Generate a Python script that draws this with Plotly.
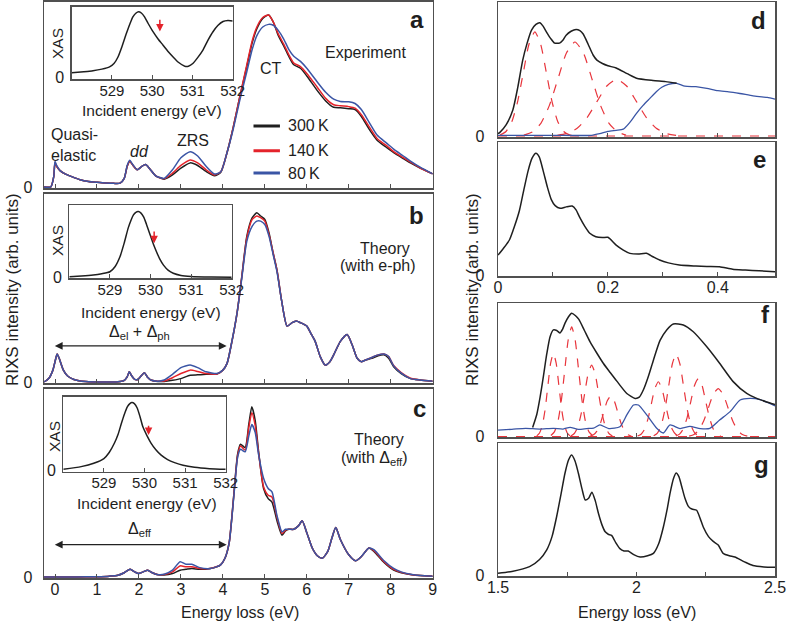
import plotly.graph_objects as go

# ---------------- DATA ----------------
# Panel a (experiment)
xa = [-0.26, -0.1, -0.03, 0.0, 0.04, 0.12, 0.25, 0.4, 0.6, 0.8, 1.0, 1.2, 1.4, 1.55, 1.65, 1.72, 1.78, 1.86, 1.96, 2.07,
      2.16, 2.26, 2.4, 2.6, 2.8, 3.0, 3.22, 3.4, 3.6, 3.8, 3.95, 4.1, 4.25, 4.4, 4.57, 4.7, 4.81, 4.95, 5.09, 5.2,
      5.32, 5.45, 5.57, 5.69, 5.85, 6.0, 6.25, 6.45, 6.64, 6.8, 7.0, 7.15, 7.3, 7.5, 7.68, 7.9, 8.07, 8.3, 8.47, 8.7, 9.0]
a_300K = [0.0, 0.0, 0.06, 0.14, 0.12, 0.095, 0.075, 0.06, 0.042, 0.032, 0.027, 0.023, 0.021, 0.022, 0.05, 0.12, 0.15, 0.125, 0.10, 0.12,
          0.13, 0.105, 0.065, 0.045, 0.07, 0.11, 0.14, 0.125, 0.09, 0.065, 0.085, 0.20, 0.35, 0.52, 0.70, 0.84, 0.92, 0.98, 1.0, 0.96,
          0.88, 0.82, 0.76, 0.71, 0.69, 0.645, 0.56, 0.50, 0.463, 0.46, 0.455, 0.45, 0.41, 0.33, 0.27, 0.23, 0.20, 0.165, 0.14, 0.11, 0.076]
a_140K = [0.0, 0.0, 0.06, 0.14, 0.12, 0.095, 0.075, 0.06, 0.042, 0.032, 0.027, 0.023, 0.021, 0.022, 0.05, 0.12, 0.15, 0.125, 0.10, 0.12,
          0.13, 0.105, 0.065, 0.048, 0.08, 0.125, 0.157, 0.14, 0.10, 0.07, 0.088, 0.20, 0.35, 0.52, 0.71, 0.85, 0.93, 0.985, 1.0, 0.96,
          0.89, 0.83, 0.77, 0.72, 0.70, 0.66, 0.58, 0.515, 0.478, 0.472, 0.467, 0.458, 0.42, 0.345, 0.28, 0.24, 0.205, 0.17, 0.145, 0.11, 0.076]
a_80K = [0.0, 0.0, 0.06, 0.15, 0.125, 0.095, 0.075, 0.06, 0.042, 0.032, 0.027, 0.023, 0.021, 0.022, 0.05, 0.125, 0.155, 0.128, 0.10, 0.12,
         0.13, 0.105, 0.065, 0.05, 0.10, 0.17, 0.205, 0.18, 0.12, 0.075, 0.088, 0.20, 0.34, 0.50, 0.67, 0.80, 0.88, 0.93, 0.945, 0.94,
         0.91, 0.86, 0.80, 0.76, 0.73, 0.69, 0.61, 0.55, 0.51, 0.497, 0.495, 0.485, 0.45, 0.37, 0.30, 0.255, 0.22, 0.18, 0.15, 0.115, 0.076]

# Panel b (theory with e-ph)
xb = [-0.26, -0.15, -0.05, 0.02, 0.05, 0.1, 0.2, 0.3, 0.45, 0.6, 0.8, 1.2, 1.5, 1.65, 1.72, 1.77, 1.83, 1.9, 1.97, 2.05,
      2.13, 2.2, 2.3, 2.45, 2.6, 2.8, 3.0, 3.22, 3.4, 3.6, 3.86, 4.0, 4.1, 4.2, 4.34, 4.45, 4.57, 4.7, 4.81, 4.9,
      5.0, 5.1, 5.2, 5.29, 5.4, 5.53, 5.65, 5.75, 5.85, 6.0, 6.09, 6.2, 6.32, 6.44, 6.55, 6.64, 6.8, 6.96, 7.08, 7.2,
      7.3, 7.4, 7.55, 7.7, 7.84, 7.95, 8.07, 8.25, 8.47, 8.7, 9.0]
b_300K = [0.0, 0.02, 0.07, 0.14, 0.165, 0.14, 0.07, 0.035, 0.015, 0.006, 0.002, 0.0, 0.002, 0.01, 0.03, 0.06, 0.035, 0.015, 0.015, 0.035,
          0.055, 0.03, 0.01, 0.003, 0.003, 0.01, 0.02, 0.04, 0.042, 0.045, 0.047, 0.07, 0.11, 0.22, 0.41, 0.62, 0.86, 0.97, 1.0, 0.98,
          0.96, 0.88, 0.76, 0.66, 0.48, 0.33, 0.35, 0.36, 0.35, 0.33, 0.29, 0.24, 0.15, 0.10, 0.12, 0.16, 0.24, 0.28, 0.22, 0.14,
          0.12, 0.13, 0.14, 0.155, 0.16, 0.14, 0.09, 0.05, 0.02, 0.012, 0.005]
b_140K = [0.0, 0.02, 0.07, 0.14, 0.165, 0.14, 0.07, 0.035, 0.015, 0.006, 0.002, 0.0, 0.002, 0.01, 0.03, 0.06, 0.035, 0.015, 0.015, 0.035,
          0.055, 0.03, 0.01, 0.004, 0.006, 0.025, 0.05, 0.07, 0.062, 0.05, 0.047, 0.07, 0.11, 0.22, 0.41, 0.62, 0.85, 0.96, 0.98, 0.97,
          0.95, 0.87, 0.76, 0.66, 0.48, 0.33, 0.35, 0.36, 0.35, 0.33, 0.29, 0.24, 0.15, 0.10, 0.12, 0.16, 0.24, 0.28, 0.22, 0.14,
          0.12, 0.13, 0.145, 0.16, 0.165, 0.15, 0.097, 0.055, 0.022, 0.012, 0.005]
b_80K = [0.0, 0.02, 0.07, 0.14, 0.165, 0.14, 0.07, 0.035, 0.015, 0.006, 0.002, 0.0, 0.002, 0.01, 0.03, 0.06, 0.035, 0.015, 0.015, 0.035,
         0.055, 0.03, 0.01, 0.005, 0.012, 0.045, 0.085, 0.10, 0.085, 0.06, 0.05, 0.07, 0.11, 0.22, 0.41, 0.61, 0.83, 0.92, 0.95, 0.95,
         0.93, 0.86, 0.75, 0.65, 0.48, 0.33, 0.35, 0.36, 0.35, 0.33, 0.29, 0.24, 0.15, 0.10, 0.12, 0.16, 0.24, 0.28, 0.22, 0.14,
         0.12, 0.13, 0.145, 0.16, 0.165, 0.15, 0.095, 0.052, 0.02, 0.012, 0.005]

# Panel c (theory with Delta_eff)
xc = [-0.26, 0.5, 1.0, 1.3, 1.5, 1.65, 1.79, 1.9, 1.99, 2.1, 2.21, 2.32, 2.43, 2.6, 2.8, 2.98, 3.12, 3.26, 3.45, 3.7,
      3.94, 4.05, 4.15, 4.26, 4.35, 4.42, 4.53, 4.62, 4.69, 4.77, 4.85, 4.97, 5.08, 5.17, 5.29, 5.41, 5.49, 5.57, 5.69, 5.8,
      5.89, 6.0, 6.13, 6.25, 6.37, 6.5, 6.6, 6.69, 6.8, 7.0, 7.16, 7.3, 7.48, 7.6, 7.84, 8.07, 8.25, 8.47, 8.7, 9.0]
c_300K = [0.0, 0.0, 0.002, 0.005, 0.01, 0.025, 0.045, 0.03, 0.02, 0.03, 0.04, 0.025, 0.015, 0.012, 0.02, 0.04, 0.045, 0.05, 0.045, 0.05,
          0.07, 0.11, 0.20, 0.48, 0.72, 0.78, 0.76, 0.90, 1.0, 0.92, 0.74, 0.52, 0.46, 0.44, 0.33, 0.245, 0.27, 0.28, 0.28, 0.30,
          0.33, 0.26, 0.17, 0.125, 0.11, 0.15, 0.23, 0.29, 0.22, 0.13, 0.095, 0.12, 0.17, 0.15, 0.085, 0.04, 0.025, 0.015, 0.008, 0.005]
c_140K = [0.0, 0.0, 0.002, 0.005, 0.01, 0.025, 0.045, 0.03, 0.02, 0.03, 0.04, 0.025, 0.015, 0.014, 0.03, 0.065, 0.06, 0.06, 0.05, 0.05,
          0.07, 0.11, 0.20, 0.48, 0.71, 0.77, 0.745, 0.88, 0.965, 0.89, 0.73, 0.53, 0.48, 0.47, 0.35, 0.255, 0.275, 0.28, 0.28, 0.30,
          0.33, 0.26, 0.17, 0.125, 0.11, 0.15, 0.23, 0.29, 0.22, 0.13, 0.095, 0.12, 0.17, 0.155, 0.09, 0.045, 0.027, 0.015, 0.008, 0.005]
c_80K = [0.0, 0.0, 0.002, 0.005, 0.01, 0.025, 0.045, 0.03, 0.02, 0.03, 0.04, 0.025, 0.015, 0.016, 0.04, 0.09, 0.075, 0.075, 0.055, 0.05,
         0.07, 0.11, 0.20, 0.47, 0.70, 0.75, 0.735, 0.83, 0.895, 0.85, 0.72, 0.58, 0.52, 0.50, 0.36, 0.265, 0.28, 0.28, 0.28, 0.30,
         0.33, 0.26, 0.17, 0.125, 0.11, 0.15, 0.23, 0.29, 0.22, 0.13, 0.095, 0.12, 0.17, 0.16, 0.095, 0.05, 0.03, 0.016, 0.008, 0.005]

# Insets: XAS vs incident energy
xas_a_x = [528.0, 528.3, 528.53, 528.75, 528.94, 529.05, 529.15, 529.25, 529.36, 529.45, 529.52, 529.6, 529.66, 529.73, 529.81,
           529.9, 530.02, 530.15, 530.27, 530.4, 530.52, 530.65, 530.81, 530.9, 531.01, 531.13, 531.26, 531.38, 531.51, 531.63,
           531.76, 531.88, 532.0]
xas_a_y = [0.07, 0.085, 0.10, 0.125, 0.16, 0.21, 0.31, 0.47, 0.67, 0.82, 0.92, 0.98, 1.0, 0.98, 0.92,
           0.82, 0.695, 0.58, 0.49, 0.39, 0.31, 0.23, 0.17, 0.17, 0.21, 0.30, 0.415, 0.56, 0.695, 0.79,
           0.85, 0.865, 0.86]
xas_b_x = [528.0, 528.3, 528.59, 528.8, 529.0, 529.13, 529.25, 529.35, 529.45, 529.52, 529.58, 529.64, 529.7, 529.76, 529.83,
           529.9, 529.99, 530.07, 530.15, 530.23, 530.32, 530.44, 530.56, 530.75, 531.0, 531.5, 532.0]
xas_b_y = [0.015, 0.025, 0.04, 0.06, 0.09, 0.17, 0.32, 0.52, 0.75, 0.87, 0.95, 0.99, 1.0, 0.98, 0.92,
           0.81, 0.65, 0.51, 0.39, 0.28, 0.19, 0.11, 0.067, 0.035, 0.02, 0.01, 0.005]
xas_c_x = [528.0, 528.44, 528.75, 529.0, 529.13, 529.26, 529.35, 529.43, 529.5, 529.58, 529.64, 529.69, 529.75, 529.82, 529.89,
           529.96, 530.06, 530.16, 530.28, 530.41, 530.57, 530.74, 530.95, 531.23, 531.6, 532.0]
xas_c_y = [0.01, 0.05, 0.1, 0.17, 0.26, 0.40, 0.53, 0.69, 0.82, 0.94, 0.985, 1.0, 0.985, 0.92, 0.79,
           0.64, 0.51, 0.40, 0.30, 0.22, 0.155, 0.11, 0.07, 0.04, 0.02, 0.01]
arrow_energy = {"a": 530.19, "b": 530.09, "c": 530.1}

# Panel d
xd_total = [0.0, 0.003, 0.015, 0.027, 0.036, 0.045, 0.053, 0.061, 0.069, 0.076, 0.082, 0.088, 0.096, 0.103, 0.112, 0.118,
            0.124, 0.133, 0.142, 0.149, 0.155, 0.164, 0.173, 0.18, 0.19, 0.2, 0.215, 0.235, 0.252, 0.282, 0.305, 0.325]
yd_total = [0.02, 0.03, 0.1, 0.23, 0.43, 0.67, 0.82, 0.935, 0.985, 1.0, 0.97, 0.92, 0.86, 0.82, 0.82, 0.845,
            0.89, 0.925, 0.94, 0.93, 0.90, 0.81, 0.715, 0.67, 0.64, 0.62, 0.6, 0.55, 0.51, 0.49, 0.48, 0.465]
xd_bg = [0.0, 0.1, 0.17, 0.185, 0.2, 0.215, 0.228, 0.24, 0.252, 0.264, 0.276, 0.288, 0.298, 0.31, 0.325, 0.34, 0.36,
         0.38, 0.4, 0.42, 0.44, 0.464, 0.48, 0.49, 0.504]
yd_bg = [0.005, 0.005, 0.006, 0.02, 0.04, 0.05, 0.06, 0.12, 0.2, 0.27, 0.33, 0.39, 0.43, 0.455, 0.465, 0.44, 0.435,
         0.42, 0.40, 0.39, 0.375, 0.355, 0.345, 0.34, 0.325]
xd_fit1 = [0.004, 0.0145, 0.025, 0.0355, 0.046, 0.0565, 0.067, 0.0775, 0.088, 0.0985, 0.109, 0.1195, 0.13, 0.1405]
yd_fit1 = [0.010, 0.040, 0.124, 0.299, 0.558, 0.812, 0.92, 0.812, 0.558, 0.299, 0.124, 0.040, 0.010, 0.002]
xd_fit2 = [0.047, 0.0625, 0.078, 0.0935, 0.109, 0.1245, 0.14, 0.1555, 0.171, 0.1865, 0.202, 0.2175, 0.233]
yd_fit2 = [0.009, 0.036, 0.112, 0.270, 0.503, 0.732, 0.83, 0.732, 0.503, 0.270, 0.112, 0.036, 0.009]
xd_fit3 = [0.108, 0.126, 0.144, 0.162, 0.18, 0.198, 0.216, 0.234, 0.252, 0.27, 0.288, 0.306, 0.324]
yd_fit3 = [0.006, 0.022, 0.068, 0.162, 0.303, 0.441, 0.50, 0.441, 0.303, 0.162, 0.068, 0.022, 0.006]

# Panel e
xe = [0.0, 0.01, 0.021, 0.03, 0.039, 0.047, 0.055, 0.062, 0.069, 0.075, 0.082, 0.09, 0.097, 0.104, 0.113, 0.124, 0.135,
      0.142, 0.148, 0.158, 0.167, 0.178, 0.19, 0.2, 0.215, 0.228, 0.24, 0.255, 0.27, 0.282, 0.294, 0.31, 0.33, 0.36, 0.38,
      0.403, 0.427, 0.45, 0.475, 0.504]
ye = [0.164, 0.22, 0.29, 0.40, 0.53, 0.70, 0.86, 0.96, 1.0, 0.97, 0.86, 0.72, 0.62, 0.57, 0.548, 0.56, 0.567,
      0.535, 0.48, 0.40, 0.343, 0.315, 0.308, 0.31, 0.246, 0.205, 0.178, 0.172, 0.178, 0.15, 0.123, 0.10, 0.082, 0.074, 0.07,
      0.068, 0.047, 0.041, 0.035, 0.027]

# Panel f
xf_total = [1.625, 1.64, 1.652, 1.664, 1.676, 1.688, 1.70, 1.712, 1.724, 1.733, 1.742, 1.754, 1.766, 1.78, 1.792, 1.812,
            1.832, 1.856, 1.88, 1.905, 1.929, 1.965, 1.995, 2.01, 2.025, 2.043, 2.061, 2.085, 2.109, 2.133, 2.169, 2.205,
            2.253, 2.30, 2.349, 2.398, 2.434, 2.465, 2.5]
yf_total = [0.075, 0.18, 0.32, 0.49, 0.67, 0.81, 0.865, 0.86, 0.84, 0.87, 0.92, 0.97, 1.0, 0.98, 0.95, 0.86,
            0.77, 0.68, 0.595, 0.52, 0.45, 0.35, 0.31, 0.32, 0.38, 0.49, 0.62, 0.78, 0.865, 0.913, 0.905, 0.85,
            0.73, 0.595, 0.446, 0.35, 0.31, 0.285, 0.26]
xf_bg = [1.5, 1.55, 1.6, 1.65, 1.7, 1.735, 1.76, 1.79, 1.82, 1.845, 1.868, 1.9, 1.94, 1.965, 1.989, 2.007, 2.037, 2.073,
         2.097, 2.121, 2.157, 2.193, 2.23, 2.265, 2.30, 2.338, 2.374, 2.41, 2.446, 2.5]
yf_bg = [0.054, 0.06, 0.068, 0.062, 0.068, 0.062, 0.076, 0.06, 0.066, 0.07, 0.095, 0.066, 0.08, 0.176, 0.257, 0.257, 0.176,
         0.068, 0.03, 0.095, 0.066, 0.083, 0.066, 0.068, 0.135, 0.203, 0.297, 0.31, 0.30, 0.25]
f_fits = [
    ([1.64, 1.65, 1.66, 1.67, 1.68, 1.69, 1.70, 1.71, 1.72, 1.73, 1.74, 1.75, 1.76],
     [0.007, 0.030, 0.091, 0.219, 0.410, 0.595, 0.675, 0.595, 0.410, 0.219, 0.091, 0.030, 0.007]),
    ([1.691, 1.7035, 1.716, 1.7285, 1.741, 1.7535, 1.766, 1.7785, 1.791, 1.8035, 1.816, 1.8285, 1.841],
     [0.010, 0.039, 0.120, 0.289, 0.540, 0.785, 0.89, 0.785, 0.540, 0.289, 0.120, 0.039, 0.010]),
    ([1.763, 1.7755, 1.788, 1.8005, 1.813, 1.8255, 1.838, 1.8505, 1.863, 1.8755, 1.888, 1.9005, 1.913],
     [0.006, 0.026, 0.078, 0.189, 0.352, 0.512, 0.58, 0.512, 0.352, 0.189, 0.078, 0.026, 0.006]),
    ([1.832, 1.8445, 1.857, 1.8695, 1.882, 1.8945, 1.907, 1.9195, 1.932, 1.9445, 1.957, 1.9695, 1.982],
     [0.004, 0.015, 0.045, 0.107, 0.200, 0.291, 0.33, 0.291, 0.200, 0.107, 0.045, 0.015, 0.004]),
    ([2.004, 2.0165, 2.029, 2.0415, 2.054, 2.0665, 2.079, 2.0915, 2.104, 2.1165, 2.129, 2.1415, 2.154],
     [0.005, 0.020, 0.060, 0.145, 0.270, 0.392, 0.445, 0.392, 0.270, 0.145, 0.060, 0.020, 0.005]),
    ([2.062, 2.0755, 2.089, 2.1025, 2.116, 2.1295, 2.143, 2.1565, 2.17, 2.1835, 2.197, 2.2105, 2.224],
     [0.007, 0.029, 0.090, 0.218, 0.407, 0.591, 0.67, 0.591, 0.407, 0.218, 0.090, 0.029, 0.007]),
    ([2.142, 2.1555, 2.169, 2.1825, 2.196, 2.2095, 2.223, 2.2365, 2.25, 2.2635, 2.277, 2.2905, 2.304],
     [0.005, 0.021, 0.063, 0.153, 0.285, 0.415, 0.47, 0.415, 0.285, 0.153, 0.063, 0.021, 0.005]),
    ([2.19, 2.2075, 2.225, 2.2425, 2.26, 2.2775, 2.295, 2.3125, 2.33, 2.3475, 2.365, 2.3825, 2.40],
     [0.004, 0.017, 0.053, 0.127, 0.237, 0.344, 0.39, 0.344, 0.237, 0.127, 0.053, 0.017, 0.004]),
]

# Panel g
xg = [1.5, 1.55, 1.614, 1.65, 1.676, 1.695, 1.712, 1.728, 1.742, 1.755, 1.766, 1.778, 1.79, 1.803, 1.815, 1.827, 1.839,
      1.851, 1.863, 1.875, 1.887, 1.898, 1.91, 1.925, 1.94, 1.955, 1.97, 1.99, 2.013, 2.04, 2.061, 2.08, 2.097, 2.11,
      2.121, 2.133, 2.143, 2.153, 2.163, 2.175, 2.188, 2.2, 2.217, 2.23, 2.241, 2.26, 2.277, 2.295, 2.313, 2.335, 2.355,
      2.39, 2.42, 2.46, 2.5]
yg = [0.014, 0.03, 0.07, 0.13, 0.21, 0.32, 0.49, 0.68, 0.85, 0.96, 1.0, 0.95, 0.85, 0.72, 0.625, 0.64, 0.69,
      0.62, 0.51, 0.42, 0.36, 0.34, 0.33, 0.27, 0.22, 0.2, 0.2, 0.17, 0.15, 0.16, 0.18, 0.26, 0.40, 0.54,
      0.68, 0.80, 0.85, 0.82, 0.74, 0.64, 0.57, 0.55, 0.54, 0.47, 0.40, 0.32, 0.28, 0.25, 0.18, 0.16, 0.15,
      0.11, 0.08, 0.068, 0.064]

temps = ["300\u2009K", "140\u2009K", "80\u2009K"]
left_ticks = [0, 1, 2, 3, 4, 5, 6, 7, 8, 9]
inset_ticks = [529, 530, 531, 532]
de_ticks = [0, 0.2, 0.4]
de_minor = [0.1, 0.3]
fg_ticks = [1.5, 2, 2.5]
fg_minor = [1.75, 2.25]

# ---------------- STYLE ----------------
W, H = 788, 623
FONT = "Liberation Sans, Arial, sans-serif"
FRAME = "#505050"
TXT = "#1e1e1e"
BLACK = "#1f1f1f"
RED = "#e4232b"
BLUE = "#3a55a5"
colors = [BLACK, RED, BLUE]


def xdom(p0, p1):
    return [p0 / W, p1 / W]


def ydom(top, bottom):
    return [1 - bottom / H, 1 - top / H]


def xax(dom, rng, anchor, tickvals, labels=False, minor=None, lw=1.5, standoff=-4, fsize=16):
    d = dict(domain=dom, range=rng, anchor=anchor, showline=True, mirror=True, linecolor=FRAME, linewidth=lw,
             showgrid=False, zeroline=False, ticks="inside", ticklen=4, tickcolor=FRAME, tickwidth=1,
             tickvals=tickvals, showticklabels=labels, tickfont=dict(size=fsize, color=TXT, family=FONT),
             ticklabelstandoff=standoff, fixedrange=True, automargin=False)
    if minor is not None:
        d["minor"] = dict(tickvals=minor, ticks="inside", ticklen=4, tickcolor=FRAME, tickwidth=1, showgrid=False)
    return d


def yax(dom, rng, anchor, standoff, lw=1.5):
    return dict(domain=dom, range=rng, anchor=anchor, showline=True, mirror=True, linecolor=FRAME, linewidth=lw,
                showgrid=False, zeroline=False, ticks="", tickvals=[0], ticktext=["0"],
                tickfont=dict(size=16, color=TXT, family=FONT), ticklabelstandoff=standoff, fixedrange=True,
                automargin=False)


fig = go.Figure()


def add_line(x, y, ax, color, width=1.4, dash=None, smooth=0.6):
    fig.add_trace(go.Scatter(x=x, y=y, xaxis=ax[0], yaxis=ax[1], mode="lines", showlegend=False,
                             line=dict(color=color, width=width, dash=dash, shape="spline", smoothing=smooth),
                             hoverinfo="skip"))


# left panels
for ax, series, xs in [(("x", "y"), [a_300K, a_140K, a_80K], xa),
                       (("x2", "y2"), [b_300K, b_140K, b_80K], xb),
                       (("x3", "y3"), [c_300K, c_140K, c_80K], xc)]:
    for ys, col in zip(series, colors):
        add_line(xs, ys, ax, col, width=1.5)

# insets
for ax, xs, ys in [(("x8", "y8"), xas_a_x, xas_a_y), (("x9", "y9"), xas_b_x, xas_b_y),
                   (("x10", "y10"), xas_c_x, xas_c_y)]:
    add_line(xs, ys, ax, BLACK, width=1.5)

# panel d
dash_red = "#e8353c"
add_line([0, 0.504], [0, 0], ("x4", "y4"), dash_red, width=1.2, dash="dash")
for fx, fy in [(xd_fit1, yd_fit1), (xd_fit2, yd_fit2), (xd_fit3, yd_fit3)]:
    add_line(fx, fy, ("x4", "y4"), dash_red, width=1.2, dash="dash")
add_line(xd_bg, yd_bg, ("x4", "y4"), BLUE, width=1.3)
add_line(xd_total, yd_total, ("x4", "y4"), BLACK, width=1.5)

# panel e
add_line(xe, ye, ("x5", "y5"), BLACK, width=1.5)

# panel f
add_line([1.5, 2.5], [0, 0], ("x6", "y6"), dash_red, width=1.2, dash="dash")
for fx, fy in f_fits:
    add_line(fx, fy, ("x6", "y6"), dash_red, width=1.2, dash="dash")
add_line(xf_bg, yf_bg, ("x6", "y6"), BLUE, width=1.3)
add_line(xf_total, yf_total, ("x6", "y6"), BLACK, width=1.5)

# panel g
add_line(xg, yg, ("x7", "y7"), BLACK, width=1.5)

LX = xdom(44, 432.7)
RX = xdom(498, 775)
layout = dict(
    width=W, height=H, margin=dict(l=0, r=0, t=0, b=0, autoexpand=False), paper_bgcolor="white",
    plot_bgcolor="rgba(0,0,0,0)",
    font=dict(family=FONT, size=16, color=TXT), showlegend=False,
    xaxis=xax(LX, [-0.262, 9], "y", left_ticks),
    yaxis=yax(ydom(1.5, 188), [-0.006, 1.078], "x", 7),
    xaxis2=xax(LX, [-0.262, 9], "y2", left_ticks),
    yaxis2=yax(ydom(193.5, 383), [-0.006, 1.113], "x2", 7),
    xaxis3=xax(LX, [-0.262, 9], "y3", left_ticks, labels=True),
    yaxis3=yax(ydom(388.5, 578), [-0.006, 1.107], "x3", 7),
    xaxis4=xax(RX, [0, 0.504], "y4", de_ticks, minor=de_minor),
    yaxis4=yax(ydom(2, 137), [-0.009, 1.183], "x4", 9),
    xaxis5=xax(RX, [0, 0.504], "y5", de_ticks, labels=True, minor=de_minor),
    yaxis5=yax(ydom(142, 276), [-0.008, 1.093], "x5", 9),
    xaxis6=xax(RX, [1.5, 2.5], "y6", fg_ticks, minor=fg_minor),
    yaxis6=yax(ydom(303, 437), [-0.0025, 1.083], "x6", 9),
    xaxis7=xax(RX, [1.5, 2.5], "y7", fg_ticks, labels=True, minor=fg_minor),
    yaxis7=yax(ydom(443, 576), [-0.008, 1.1], "x7", 9),
    xaxis8=xax(xdom(71.7, 232.7), [528, 532], "y8", inset_ticks, labels=True, lw=1.3, standoff=-3, fsize=15),
    yaxis8=yax(ydom(6.7, 79.3), [-0.03, 1.076], "x8", 3, lw=1.3),
    xaxis9=xax(xdom(69.3, 231.7), [528, 532], "y9", inset_ticks, labels=True, lw=1.3, standoff=-3, fsize=15),
    yaxis9=yax(ydom(205, 278.3), [-0.009, 1.10], "x9", 3, lw=1.3),
    xaxis10=xax(xdom(63.3, 225.7), [528, 532], "y10", inset_ticks, labels=True, lw=1.3, standoff=-3, fsize=15),
    yaxis10=yax(ydom(396.7, 471.7), [-0.025, 1.087], "x10", 3, lw=1.3),
)
fig.update_layout(**layout)

ann = []


def txt(x, y, s, ax, size=16, bold=False, xanchor="center", align="center", italic=False, angle=0):
    if bold:
        s = "<b>" + s + "</b>"
    if italic:
        s = "<i>" + s + "</i>"
    ann.append(dict(x=x, y=y, xref=ax[0], yref=ax[1], text=s, showarrow=False, xanchor=xanchor, yanchor="middle",
                    align=align, textangle=angle, font=dict(size=size, color=TXT, family=FONT)))


def ptxt(px, py, s, size=16, angle=0):
    txt(px / W, 1 - py / H, s, ("paper", "paper"), size=size, angle=angle)


# axis titles (paper positions)
ptxt(240, 612, "Energy loss (eV)")
ptxt(637, 612, "Energy loss (eV)")
ptxt(12, 290, "RIXS intensity (arb. units)", size=17, angle=-90)
ptxt(472, 290, "RIXS intensity (arb. units)", size=17, angle=-90)
# inset titles
ptxt(152.3, 110, "Incident energy (eV)", size=15.5)
ptxt(151.0, 312.5, "Incident energy (eV)", size=15.5)
ptxt(147.0, 503.5, "Incident energy (eV)", size=15.5)
ptxt(57, 43, "XAS", size=15.5, angle=-90)
ptxt(57, 240, "XAS", size=15.5, angle=-90)
ptxt(54, 437, "XAS", size=15.5, angle=-90)

# panel letters
txt(8.62, 0.971, "a", ("x", "y"), size=24, bold=True)
txt(8.62, 0.986, "b", ("x2", "y2"), size=24, bold=True)
txt(8.69, 0.988, "c", ("x3", "y3"), size=24, bold=True)
txt(0.4745, 1.024, "d", ("x4", "y4"), size=24, bold=True)
txt(0.476, 0.95, "e", ("x5", "y5"), size=24, bold=True)
txt(2.464, 0.986, "f", ("x6", "y6"), size=24, bold=True)
txt(2.452, 0.925, "g", ("x7", "y7"), size=24, bold=True)

# panel a labels
txt(7.41, 0.779, "Experiment", ("x", "y"))
txt(5.14, 0.69, "CT", ("x", "y"))
txt(3.30, 0.273, "ZRS", ("x", "y"))
txt(2.025, 0.205, "dd", ("x", "y"), italic=True)
txt(-0.15, 0.244, "Quasi-<br>elastic", ("x", "y"), xanchor="left", align="left")
legend_y = [0.355, 0.211, 0.081]
for lab, col, yy in zip(temps, colors, legend_y):
    fig.add_shape(type="line", xref="x", yref="y", x0=4.73, x1=5.36, y0=yy, y1=yy, line=dict(color=col, width=3))
    txt(5.5, yy, lab, ("x", "y"), xanchor="left")

# panel b / c labels
txt(7.86, 0.79, "Theory", ("x2", "y2"))
txt(7.70, 0.69, "(with e-ph)", ("x2", "y2"))
txt(7.72, 0.81, "Theory", ("x3", "y3"))
txt(7.62, 0.694, "(with Δ<sub>eff</sub>)", ("x3", "y3"))
txt(2.02, 0.29, "Δ<sub>el</sub> + Δ<sub>ph</sub>", ("x2", "y2"))
txt(2.02, 0.28, "Δ<sub>eff</sub>", ("x3", "y3"))
for axx, axy, yy in [("x2", "y2", 0.213), ("x3", "y3", 0.19)]:
    ann.append(dict(x=4.09, y=yy, ax=-0.04, ay=yy, xref=axx, yref=axy, axref=axx, ayref=axy, text="",
                    showarrow=True, arrowhead=2, arrowside="end+start", arrowsize=1.3, arrowwidth=1.2,
                    arrowcolor="#222"))

# red arrows in insets
for key, axx, axy, ytop, ytip in [("a", "x8", "y8", 0.90, 0.70), ("b", "x9", "y9", 0.72, 0.52),
                                  ("c", "x10", "y10", 0.68, 0.52)]:
    e = arrow_energy[key]
    ann.append(dict(x=e, y=ytip, ax=e, ay=ytop, xref=axx, yref=axy, axref=axx, ayref=axy, text="",
                    showarrow=True, arrowhead=2, arrowsize=1, arrowwidth=1.5, arrowcolor=RED))

fig.update_layout(annotations=ann)
fig.write_html("out.html", config={"displayModeBar": False, "staticPlot": True},
               post_script="document.body.style.margin='0px';")
